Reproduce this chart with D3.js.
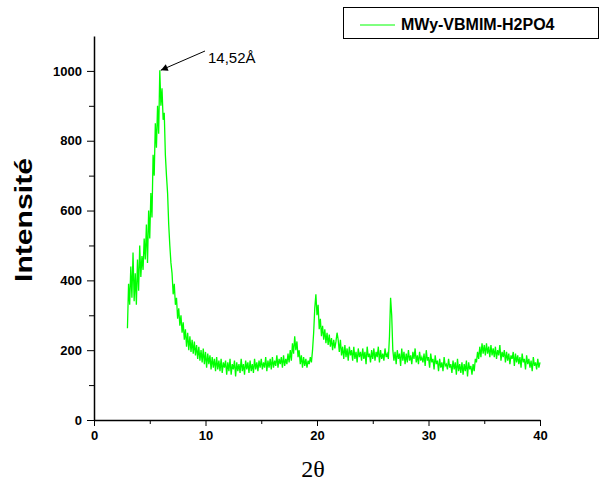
<!DOCTYPE html>
<html lang="en">
<head>
  <meta charset="utf-8"/>
  <title>XRD MWy-VBMIM-H2PO4</title>
  <script src="https://d3js.org/d3.v7.min.js"></script>
  <style>
    body { margin: 0; background: #fff; }
    .tick text { font-family: "Liberation Sans", Arial, sans-serif; font-weight: bold; font-size: 13px; }
    .domain, .tick line { stroke: #000; }
  </style>
</head>
<body>
<svg id="chart" width="611" height="484"></svg>
<script>
  // 2θ sampling: start at 3.0, step 0.1 deg
  const thetaStart = 3.0;
  const thetaStep = 0.1;
  const intensity = [
    263, 390, 330, 440, 350, 480, 340, 420, 330, 460,
    370, 500, 410, 470, 430, 520, 460, 560, 450, 600,
    520, 650, 580, 760, 700, 850, 780, 900, 820, 1002,
    900, 950, 860, 880, 760, 700, 650, 560, 500, 450,
    420, 360, 390, 330, 350, 290, 320, 270, 300, 250,
    280, 230, 260, 210, 250, 200, 240, 195, 230, 190,
    225, 185, 215, 175, 210, 170, 200, 165, 205, 160,
    195, 150, 190, 160, 185, 145, 180, 150, 175, 140,
    180, 145, 170, 140, 175, 135, 165, 150, 170, 130,
    165, 140, 175, 130, 160, 145, 170, 125, 165, 140,
    160, 135, 175, 140, 160, 130, 170, 145, 165, 135,
    170, 140, 160, 135, 175, 145, 165, 140, 170, 150,
    175, 145, 165, 150, 180, 140, 170, 150, 175, 145,
    180, 150, 170, 155, 185, 150, 175, 160, 180, 150,
    185, 155, 175, 160, 190, 165, 200, 170, 220, 190,
    240, 200, 225, 180, 200, 160, 185, 150, 180, 155,
    175, 150, 170, 160, 180, 165, 200, 250, 320, 360,
    300, 330, 260, 290, 240, 270, 230, 260, 220, 250,
    215, 245, 210, 235, 200, 230, 205, 225, 250, 230,
    195, 230, 185, 210, 175, 215, 180, 205, 170, 210,
    185, 200, 170, 210, 175, 195, 165, 205, 180, 195,
    170, 205, 175, 195, 160, 210, 180, 190, 165, 200,
    175, 205, 170, 195, 180, 210, 165, 200, 175, 190,
    170, 205, 180, 190, 175, 240, 350, 300, 200, 170,
    195, 160, 200, 175, 190, 155, 205, 170, 195, 160,
    190, 165, 200, 170, 185, 160, 195, 175, 205, 165,
    185, 160, 195, 170, 180, 165, 190, 155, 200, 170,
    180, 150, 190, 165, 175, 145, 185, 160, 170, 140,
    175, 150, 165, 140, 180, 155, 160, 145, 175, 150,
    160, 135, 170, 145, 165, 130, 175, 140, 160, 135,
    165, 130, 160, 140, 170, 125, 165, 145, 155, 130,
    160, 140, 175, 165, 195, 175, 210, 180, 220, 190,
    215, 185, 220, 190, 210, 180, 215, 185, 205, 180,
    210, 175, 200, 185, 215, 170, 195, 180, 200, 165,
    195, 170, 190, 160, 185, 175, 195, 155, 190, 165,
    185, 160, 180, 150, 190, 165, 175, 145, 185, 160,
    175, 150, 170, 140, 180, 155, 165, 145, 175, 150,
    165
  ];
  const xTicks = [0, 10, 20, 30, 40];
  const xMinor = [5, 15, 25, 35];
  const yTicks = [0, 200, 400, 600, 800, 1000];
  const yMinor = [100, 300, 500, 700, 900];
  const seriesName = "MWy-VBMIM-H2PO4";
  const peakLabel = "14,52Å";

  const data = intensity.map((v, i) => ({ x: thetaStart + i * thetaStep, y: v }));

  const svg = d3.select("#chart");
  const plotLeft = 94, plotRight = 540, plotTop = 36, plotBottom = 420;

  const x = d3.scaleLinear().domain([0, 40]).range([plotLeft, plotRight]);
  const y = d3.scaleLinear().domain([0, 1100]).range([plotBottom, plotTop]);

  // minor ticks first, no labels
  svg.append("g")
    .attr("transform", "translate(0," + plotBottom + ")")
    .call(d3.axisBottom(x).tickValues(xMinor).tickSize(4).tickFormat(""))
    .call(g => g.select(".domain").remove());
  svg.append("g")
    .attr("transform", "translate(" + plotLeft + ",0)")
    .call(d3.axisLeft(y).tickValues(yMinor).tickSize(5).tickFormat(""))
    .call(g => g.select(".domain").remove());

  const xAxis = svg.append("g")
    .attr("transform", "translate(0," + plotBottom + ")")
    .call(d3.axisBottom(x).tickValues(xTicks).tickSize(6).tickSizeOuter(0).tickPadding(5).tickFormat(d3.format("d")));
  xAxis.select(".domain").attr("stroke-width", 1.5);

  const yAxis = svg.append("g")
    .attr("transform", "translate(" + plotLeft + ",0)")
    .call(d3.axisLeft(y).tickValues(yTicks).tickSize(7).tickSizeOuter(0).tickPadding(5).tickFormat(d3.format("d")));
  yAxis.select(".domain").attr("stroke-width", 1.5);

  // the pattern
  const line = d3.line().x(d => x(d.x)).y(d => y(d.y));
  svg.append("path")
    .datum(data)
    .attr("fill", "none")
    .attr("stroke", "#00ff00")
    .attr("stroke-width", 1.3)
    .attr("d", line);

  // axis titles
  svg.append("text")
    .attr("x", 313).attr("y", 477)
    .attr("text-anchor", "middle")
    .style("font-family", "'Liberation Serif', 'Times New Roman', serif")
    .style("font-size", "24px")
    .text("2θ");

  svg.append("text")
    .attr("transform", "translate(32,220) rotate(-90)")
    .attr("text-anchor", "middle")
    .attr("textLength", 124)
    .attr("lengthAdjust", "spacingAndGlyphs")
    .style("font-family", "'Liberation Sans', Arial, sans-serif")
    .style("font-weight", "bold")
    .style("font-size", "23px")
    .text("Intensité");

  // peak annotation with arrow
  svg.append("defs").append("marker")
    .attr("id", "arrow")
    .attr("viewBox", "0 0 10 10")
    .attr("refX", 10).attr("refY", 5)
    .attr("markerWidth", 9).attr("markerHeight", 7)
    .attr("orient", "auto")
    .append("path").attr("d", "M0,0 L10,5 L0,10 z").attr("fill", "#000");

  const peak = data[d3.maxIndex(data, d => d.y)];
  svg.append("line")
    .attr("x1", 205).attr("y1", 51)
    .attr("x2", x(peak.x) + 1).attr("y2", y(peak.y))
    .attr("stroke", "#000")
    .attr("stroke-width", 1)
    .attr("marker-end", "url(#arrow)");
  svg.append("text")
    .attr("x", 208).attr("y", 63)
    .style("font-family", "'Liberation Sans', Arial, sans-serif")
    .style("font-size", "15px")
    .text(peakLabel);

  // legend
  const lg = svg.append("g");
  lg.append("rect")
    .attr("x", 343.5).attr("y", 7.5)
    .attr("width", 255).attr("height", 31)
    .attr("fill", "#fff").attr("stroke", "#000");
  lg.append("line")
    .attr("x1", 360).attr("x2", 395)
    .attr("y1", 25).attr("y2", 25)
    .attr("stroke", "#00ff00").attr("stroke-width", 1);
  lg.append("text")
    .attr("x", 401).attr("y", 30)
    .style("font-family", "'Liberation Sans', Arial, sans-serif")
    .style("font-weight", "bold")
    .style("font-size", "16px")
    .text(seriesName);
</script>
</body>
</html>
